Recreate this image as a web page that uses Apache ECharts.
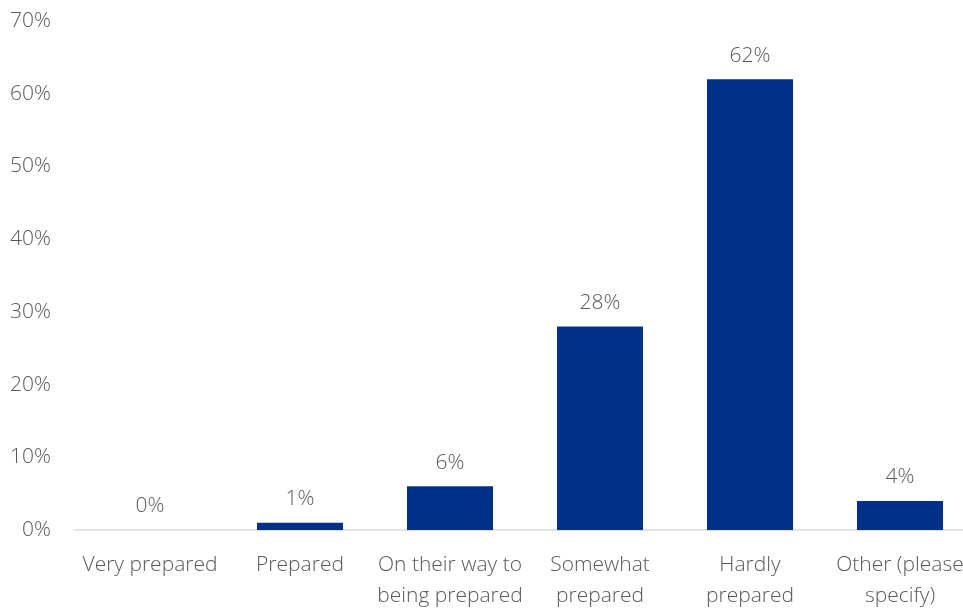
<!DOCTYPE html>
<html>
<head>
<meta charset="utf-8">
<style>
  html, body { margin: 0; padding: 0; background: #ffffff; overflow: hidden; }
  #chart { width: 975px; height: 609px; }
</style>
<script src="https://cdn.jsdelivr.net/npm/echarts@6/dist/echarts.min.js"></script>
</head>
<body>
<div id="chart"></div>
<script>
// Preparedness levels and the share of respondents for each
const categories = [
  'Very prepared',
  'Prepared',
  'On their way to\nbeing prepared',
  'Somewhat\nprepared',
  'Hardly\nprepared',
  'Other (please\nspecify)'
];
const shares = [0, 1, 6, 28, 62, 4];
const yTicks = { min: 0, max: 70, interval: 10 };

const textFont = '"Open Sans", "Noto Sans", "DejaVu Sans", sans-serif';
const textColor = '#595959';

const chart = echarts.init(document.getElementById('chart'), null, { renderer: 'canvas' });
chart.setOption({
  animation: false,
  backgroundColor: '#ffffff',
  grid: {
    left: 75, right: 0, top: 21, bottom: 79,
    containLabel: false,
    outerBoundsMode: 'none'
  },
  xAxis: {
    type: 'category',
    data: categories,
    axisLine: { show: true, lineStyle: { color: '#d9d9d9', width: 1.5 } },
    axisTick: { show: false },
    axisLabel: {
      interval: 0,
      color: textColor,
      fontFamily: textFont,
      fontWeight: 300,
      fontSize: 21,
      lineHeight: 31,
      margin: 20
    }
  },
  yAxis: {
    type: 'value',
    min: yTicks.min,
    max: yTicks.max,
    interval: yTicks.interval,
    splitLine: { show: false },
    axisLine: { show: false },
    axisTick: { show: false },
    axisLabel: {
      formatter: v => v + '%',
      color: textColor,
      fontFamily: textFont,
      fontWeight: 300,
      fontSize: 21,
      margin: 24
    }
  },
  series: [{
    type: 'bar',
    data: shares,
    barWidth: 86,
    itemStyle: { color: '#003087' },
    label: {
      show: true,
      position: 'top',
      distance: 13,
      formatter: p => p.value + '%',
      color: textColor,
      fontFamily: textFont,
      fontWeight: 300,
      fontSize: 21
    }
  }]
});
</script>
</body>
</html>
